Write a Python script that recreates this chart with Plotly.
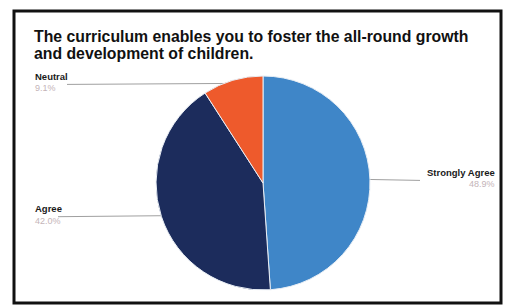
import math
import plotly.graph_objects as go

categories = ["Strongly Agree", "Agree", "Neutral"]
values = [48.9, 42.0, 9.1]
value_labels = ["48.9%", "42.0%", "9.1%"]
colors = ["#3f86c8", "#1c2c5c", "#ee5a2c"]
title_lines = ["The curriculum enables you to foster the all-round growth",
               "and development of children."]

W, H = 508, 308
cx, cy, r = 263, 183, 107

fig = go.Figure()
fig.add_trace(go.Pie(
    labels=categories, values=values, sort=False, direction="clockwise",
    rotation=0, marker=dict(colors=colors, line=dict(color="#e8eef5", width=1)),
    textinfo="none", hoverinfo="label+percent", showlegend=False,
    domain=dict(x=[(cx - r) / W, (cx + r) / W], y=[(H - cy - r) / H, (H - cy + r) / H]),
))

# label layout (style positions)
label_x = {"Strongly Agree": 497, "Agree": 33, "Neutral": 33}
label_anchor = {"Strongly Agree": "right", "Agree": "left", "Neutral": "left"}
line_end_x = {"Strongly Agree": 420, "Agree": 58, "Neutral": 67}

total = sum(values)
cum = 0
dots_x, dots_y = [], []
for cat, v, vl in zip(categories, values, value_labels):
    mid = (cum + v / 2) / total * 2 * math.pi
    cum += v
    dx = cx + 0.97 * r * math.sin(mid)
    dy = cy - 0.97 * r * math.cos(mid)
    dots_x.append(dx)
    dots_y.append(dy)
    fig.add_trace(go.Scatter(x=[line_end_x[cat], dx], y=[dy + 1, dy], mode="lines",
                             line=dict(color="#a0a0a0", width=1), hoverinfo="skip",
                             showlegend=False, xaxis="x", yaxis="y"))
    fig.add_annotation(x=label_x[cat], y=dy - 7, xref="x", yref="y", text="<b>" + cat + "</b>",
                       showarrow=False, xanchor=label_anchor[cat], yanchor="middle",
                       font=dict(family="Liberation Sans", size=9.5, color="#1a1a1a"))
    fig.add_annotation(x=label_x[cat], y=dy + 5, xref="x", yref="y", text=vl,
                       showarrow=False, xanchor=label_anchor[cat], yanchor="middle",
                       font=dict(family="Liberation Sans", size=9, color="#c4b4b8"))

fig.add_trace(go.Scatter(x=dots_x, y=dots_y, mode="markers",
                         marker=dict(color="white", size=4), hoverinfo="skip",
                         showlegend=False, xaxis="x", yaxis="y"))

for i, line in enumerate(title_lines):
    fig.add_annotation(x=32, y=36 + 17 * i, xref="x", yref="y", text="<b>" + line + "</b>",
                       showarrow=False, xanchor="left", yanchor="middle", align="left",
                       font=dict(family="Liberation Sans", size=15.8, color="#111111"))

fig.add_shape(type="rect", x0=14, y0=11, x1=501, y1=303, xref="x", yref="y",
              line=dict(color="#111111", width=3), layer="below")

fig.update_layout(
    width=W, height=H, margin=dict(l=0, r=0, t=0, b=0),
    paper_bgcolor="white", plot_bgcolor="rgba(0,0,0,0)",
    xaxis=dict(range=[0, W], visible=False, domain=[0, 1], fixedrange=True),
    yaxis=dict(range=[H, 0], visible=False, domain=[0, 1], fixedrange=True),
)

fig.write_html("out.html", config={"displayModeBar": False},
               post_script="document.body.style.margin='0';document.body.style.overflow='hidden';")
